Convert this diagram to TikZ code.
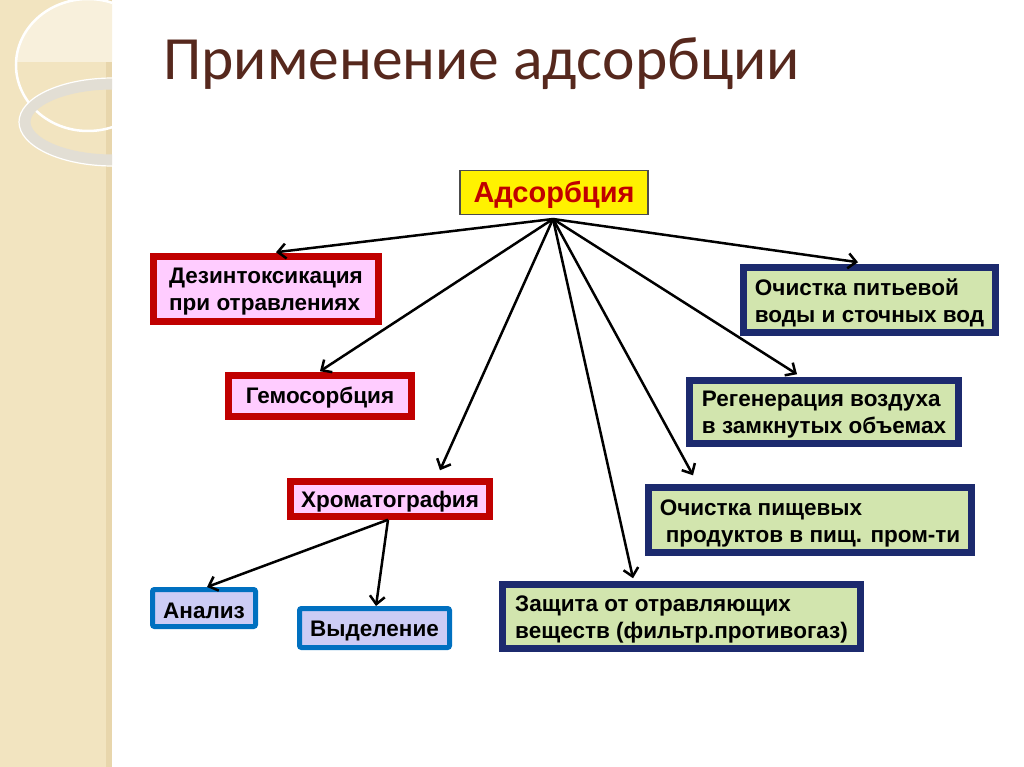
\documentclass[tikz,border=0pt]{standalone}
\usepackage{fontspec}
\setmainfont{Liberation Sans}
\newfontfamily\titlefont{Carlito}
\usetikzlibrary{arrows.meta}
\definecolor{beige}{HTML}{F2E4C0}
\definecolor{beigedark}{HTML}{E8D6AC}
\definecolor{beigelight}{HTML}{F8F0DC}
\definecolor{ringgray}{HTML}{E2DED4}
\definecolor{titlecol}{HTML}{56281D}
\definecolor{boxred}{HTML}{C00000}
\definecolor{boxpink}{HTML}{FFCCFF}
\definecolor{boxblue}{HTML}{0070C0}
\definecolor{boxlav}{HTML}{CCCCF5}
\definecolor{boxnavy}{HTML}{1C2A6E}
\definecolor{boxgreen}{HTML}{D2E5AE}
\definecolor{adsred}{HTML}{C00000}
\tikzset{
  boxtext/.style={font=\bfseries\fontsize{22.5}{27}\selectfont, align=left, inner sep=0pt, text=black, yshift=-3pt},
  redbox/.style={draw=boxred, fill=boxpink, line width=6.5pt, inner sep=0pt},
  bluebox/.style={draw=boxblue, fill=boxlav, line width=5pt, rounded corners=2pt, inner sep=0pt},
  greenbox/.style={draw=boxnavy, fill=boxgreen, line width=6.5pt, inner sep=0pt},
  topbox/.style={draw=black!70, fill=yellow, line width=1.2pt, inner sep=0pt},
  toptext/.style={text=adsred, inner sep=0pt, font=\bfseries\fontsize{29}{32}\selectfont, yshift=-2pt},
  conn/.style={draw=black, line width=2.5pt, -{Straight Barb[length=8pt,width=15pt,line width=2.5pt]}}
}
\begin{document}
\begin{tikzpicture}[x=1pt,y=-1pt]
\useasboundingbox (0,0) rectangle (1024,767);
\fill[white] (0,0) rectangle (1024,767);
% left decorative strip
\fill[beige] (0,0) rectangle (112,767);
\fill[beigedark] (106,0) rectangle (112,767);
\begin{scope}
  \clip (0,0) rectangle (112,767);
  \begin{scope}
    \clip (0,0) rectangle (112,62);
    \fill[beigelight] (88,65) ellipse [x radius=72, y radius=66];
  \end{scope}
  \draw[white, line width=2.5pt] (88,65) ellipse [x radius=72, y radius=66];
  \draw[ringgray, line width=11pt] (113,122) ellipse [x radius=88, y radius=38];
  \draw[white, line width=1.2pt] (113,122) ellipse [x radius=94, y radius=44];
\end{scope}
% title
\node[anchor=base west, inner sep=0pt, text=titlecol, font=\titlefont\fontsize{61.5}{70}\selectfont] (title) at (163,80) {Применение адсорбции};
% top node
\node[topbox, minimum width=188pt, minimum height=44pt] (ads) at (554,192.5) {};
\node[toptext] (adst) at (ads.center) {Адсорбция};
\coordinate (o) at (553,219);
% red boxes
\node[redbox, minimum width=225pt, minimum height=65pt] (dez) at (266,289) {};
\node[boxtext] (dezt) at (dez.center) {Дезинтоксикация\\при отравлениях};
\node[redbox, minimum width=183pt, minimum height=41pt] (gem) at (320,396) {};
\node[boxtext, yshift=1pt] (gemt) at (gem.center) {Гемосорбция};
\node[redbox, minimum width=199pt, minimum height=35pt] (chrom) at (390,499) {};
\node[boxtext] (chromt) at (chrom.center) {Хроматография};
% blue boxes
\node[bluebox, minimum width=103pt, minimum height=37pt] (anal) at (204,608) {};
\node[boxtext] (analt) at (anal.center) {Анализ};
\node[bluebox, minimum width=150pt, minimum height=39pt] (vyd) at (374.5,628) {};
\node[boxtext] (vydt) at (vyd.center) {Выделение};
% green boxes
\node[greenbox, minimum width=358pt, minimum height=64pt] (zash) at (681.5,616.5) {};
\node[boxtext] (zasht) at (zash.center) {Защита от отравляющих\\веществ (фильтр.противогаз)};
\node[greenbox, minimum width=323pt, minimum height=65pt] (pish) at (810,520) {};
\node[boxtext] (pisht) at (pish.center) {Очистка пищевых\\\hspace*{6pt}продуктов в пищ. пром-ти};
\node[greenbox, minimum width=269pt, minimum height=63pt] (regen) at (824,412) {};
\node[boxtext] (regent) at (regen.center) {Регенерация воздуха\\в замкнутых объемах};
\node[greenbox, minimum width=252pt, minimum height=65pt] (pit) at (869.5,300) {};
\node[boxtext] (pitt) at (pit.center) {Очистка питьевой\\воды и сточных вод};
% connectors
\draw[conn] (o) -- ([xshift=10pt,yshift=1pt]dez.north);
\draw[conn] (o) -- ([yshift=1pt]gem.north);
\draw[conn] (o) -- ([xshift=50pt,yshift=8pt]chrom.north);
\draw[conn] (o) -- ([xshift=-48.5pt,yshift=3pt]zash.north);
\draw[conn] (o) -- ([xshift=-117pt,yshift=9pt]pish.north);
\draw[conn] (o) -- ([xshift=-27pt,yshift=3pt]regen.north);
\draw[conn] (o) -- ([xshift=-11.5pt,yshift=2pt]pit.north);
\draw[conn] ([xshift=-2pt]chrom.south) -- ([xshift=3pt]anal.north);
\draw[conn] ([xshift=-2pt]chrom.south) -- ([xshift=1.5pt]vyd.north);
\end{tikzpicture}
\end{document}
